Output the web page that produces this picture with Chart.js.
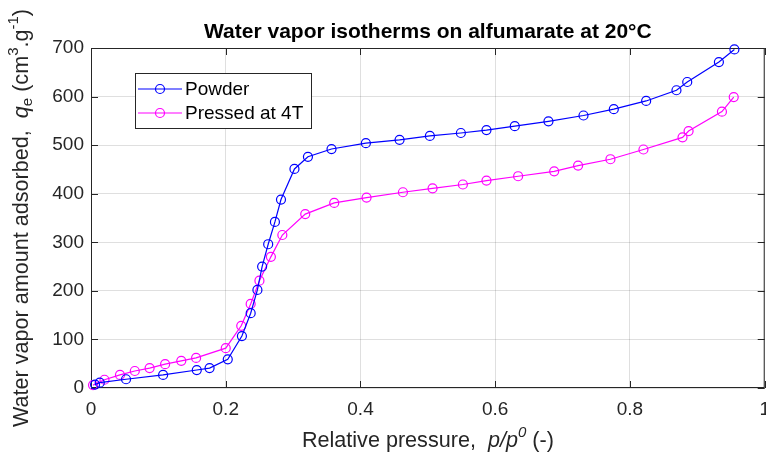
<!DOCTYPE html>
<html lang="en">
<head>
    <meta charset="UTF-8">
    <title>Water vapor isotherms</title>
    <script src="https://cdn.jsdelivr.net/npm/chart.js"></script>
    <style>
        html, body { margin: 0; padding: 0; background: #fff; overflow: hidden; }
        #wrap { width: 766px; height: 458px; overflow: hidden; }
    </style>
</head>
<body>
    <div id="wrap">
        <canvas id="isoChart" width="780" height="458"></canvas>
    </div>

    <script>
        // Powder sample
        const powderP = [0.006, 0.013, 0.052, 0.107, 0.157, 0.176, 0.203, 0.224, 0.237, 0.247, 0.254,
            0.263, 0.273, 0.282, 0.302, 0.322, 0.357, 0.408, 0.458, 0.503, 0.549, 0.587, 0.629,
            0.679, 0.731, 0.776, 0.824, 0.869, 0.885, 0.932, 0.955];
        const powderQ = [7, 11, 18, 27, 37, 41, 59, 107, 154, 202, 250,
            296, 342, 388, 451, 476, 492, 504, 511, 519, 525, 531, 539,
            549, 561, 574, 591, 613, 630, 671, 697];

        // Pressed at 4T
        const pressedP = [0.003, 0.02, 0.043, 0.065, 0.087, 0.11, 0.134, 0.156, 0.2, 0.223, 0.237,
            0.25, 0.267, 0.284, 0.318, 0.361, 0.409, 0.463, 0.507, 0.552, 0.587, 0.634,
            0.6875, 0.723, 0.771, 0.82, 0.878, 0.887, 0.9365, 0.954];
        const pressedQ = [6, 17, 27, 35, 41, 49, 56, 62, 82, 128, 173,
            221, 270, 315, 358, 381, 392, 403, 411, 419, 427, 436,
            446, 458, 471, 491, 516, 529, 569, 599];

        const seriesNames = ['Powder', 'Pressed at 4T'];
        const seriesColors = ['#0000ff', '#ff00ff'];
        const xTicks = [0, 0.2, 0.4, 0.6, 0.8, 1];
        const xTickLabels = ['0', '0.2', '0.4', '0.6', '0.8', '1'];
        const yTicks = [0, 100, 200, 300, 400, 500, 600, 700];

        const FONT = "'Liberation Sans', Arial, Helvetica, sans-serif";
        const INK = '#262626';

        function toPoints(xs, ys) {
            return xs.map((v, i) => ({ x: v, y: ys[i] }));
        }

        // text made of pieces (italic, sub/superscript), centred on (cx, cy)
        function drawRich(ctx, parts, cx, cy, angle) {
            ctx.save();
            ctx.translate(cx, cy);
            ctx.rotate(angle);
            ctx.textBaseline = 'middle';
            ctx.textAlign = 'left';
            let total = 0;
            parts.forEach(p => {
                ctx.font = p.font;
                p.w = ctx.measureText(p.t).width;
                total += p.w;
            });
            let x = -total / 2;
            parts.forEach(p => {
                ctx.font = p.font;
                ctx.fillStyle = INK;
                ctx.fillText(p.t, x, p.dy || 0);
                x += p.w;
            });
            ctx.restore();
        }

        const decorations = {
            id: 'decorations',
            beforeDatasetsDraw(chart) {
                const { ctx, chartArea: a, scales: { x, y } } = chart;
                ctx.save();
                ctx.strokeStyle = INK;
                ctx.lineWidth = 1;
                ctx.beginPath();
                // inward tick marks on all four sides
                xTicks.forEach(v => {
                    const px = Math.round(x.getPixelForValue(v)) + 0.5;
                    ctx.moveTo(px, a.bottom); ctx.lineTo(px, a.bottom - 7);
                    ctx.moveTo(px, a.top); ctx.lineTo(px, a.top + 7);
                });
                yTicks.forEach(v => {
                    const py = Math.round(y.getPixelForValue(v)) + 0.5;
                    ctx.moveTo(a.left, py); ctx.lineTo(a.left + 7, py);
                    ctx.moveTo(a.right, py); ctx.lineTo(a.right - 7, py);
                });
                ctx.stroke();
                ctx.strokeRect(a.left + 0.5, a.top + 0.5, a.right - a.left - 1, a.bottom - a.top - 1);
                ctx.restore();
            },
            afterDraw(chart) {
                const { ctx, chartArea: a } = chart;
                const mid = (a.left + a.right) / 2;

                // title
                ctx.save();
                ctx.font = 'bold 21px ' + FONT;
                ctx.fillStyle = '#000';
                ctx.textAlign = 'center';
                ctx.textBaseline = 'middle';
                ctx.fillText('Water vapor isotherms on alfumarate at 20°C', mid, 32);
                ctx.restore();

                const n = '21.6px ' + FONT, it = 'italic 21.6px ' + FONT;
                const sm = '15px ' + FONT, smi = 'italic 15px ' + FONT;

                drawRich(ctx, [
                    { t: 'Relative pressure,  ', font: n },
                    { t: 'p/p', font: it },
                    { t: '0', font: smi, dy: -8 },
                    { t: ' (-)', font: n }
                ], mid, 441, 0);

                drawRich(ctx, [
                    { t: 'Water vapor amount adsorbed,  ', font: n },
                    { t: 'q', font: it },
                    { t: 'e', font: sm, dy: 6 },
                    { t: ' (cm', font: n },
                    { t: '3', font: sm, dy: -8 },
                    { t: '.g', font: n },
                    { t: '-1', font: sm, dy: -8 },
                    { t: ')', font: n }
                ], 22, (a.top + a.bottom) / 2, -Math.PI / 2);

                // legend box
                const lx = 135, ly = 73, lw = 176, lh = 55;
                ctx.save();
                ctx.fillStyle = '#fff';
                ctx.fillRect(lx, ly, lw, lh);
                ctx.strokeStyle = INK;
                ctx.lineWidth = 1;
                ctx.strokeRect(lx + 0.5, ly + 0.5, lw, lh);
                ctx.font = '19px ' + FONT;
                ctx.textBaseline = 'middle';
                seriesNames.forEach((name, i) => {
                    const ry = ly + 16 + i * 24;
                    ctx.strokeStyle = seriesColors[i];
                    ctx.lineWidth = 1.2;
                    ctx.beginPath();
                    ctx.moveTo(lx + 3, ry); ctx.lineTo(lx + 47, ry);
                    ctx.stroke();
                    ctx.beginPath();
                    ctx.arc(lx + 25, ry, 4.5, 0, Math.PI * 2);
                    ctx.stroke();
                    ctx.fillStyle = '#000';
                    ctx.fillText(name, lx + 50, ry + 1);
                });
                ctx.restore();
            }
        };

        const ctx = document.getElementById('isoChart').getContext('2d');
        const isoChart = new Chart(ctx, {
            type: 'scatter',
            data: {
                datasets: [
                    {
                        label: seriesNames[0],
                        data: toPoints(powderP, powderQ),
                        borderColor: seriesColors[0],
                        backgroundColor: 'rgba(0,0,0,0)',
                        pointBackgroundColor: 'rgba(0,0,0,0)',
                        showLine: true,
                        borderWidth: 1.2,
                        pointRadius: 4.5,
                        pointBorderWidth: 1.2,
                        clip: false
                    },
                    {
                        label: seriesNames[1],
                        data: toPoints(pressedP, pressedQ),
                        borderColor: seriesColors[1],
                        backgroundColor: 'rgba(0,0,0,0)',
                        pointBackgroundColor: 'rgba(0,0,0,0)',
                        showLine: true,
                        borderWidth: 1.2,
                        pointRadius: 4.5,
                        pointBorderWidth: 1.2,
                        clip: false
                    }
                ]
            },
            options: {
                responsive: false,
                animation: false,
                layout: { padding: { left: 0, right: 15, top: 48, bottom: 0 } },
                plugins: {
                    legend: { display: false },
                    title: { display: false },
                    tooltip: { enabled: false }
                },
                scales: {
                    x: {
                        type: 'linear',
                        min: 0,
                        max: 1,
                        afterFit: s => { s.height = 70; },
                        afterBuildTicks: s => { s.ticks = xTicks.map(v => ({ value: v })); },
                        border: { display: false },
                        grid: { color: 'rgba(38,38,38,0.15)', drawTicks: false },
                        ticks: {
                            padding: 10,
                            maxRotation: 0,
                            color: INK,
                            font: { family: FONT, size: 19 },
                            callback: (v, i) => xTickLabels[i]
                        }
                    },
                    y: {
                        type: 'linear',
                        min: 0,
                        max: 700,
                        afterFit: s => { s.width = 91; },
                        afterBuildTicks: s => { s.ticks = yTicks.map(v => ({ value: v })); },
                        border: { display: false },
                        grid: { color: 'rgba(38,38,38,0.15)', drawTicks: false },
                        ticks: {
                            padding: 7,
                            color: INK,
                            font: { family: FONT, size: 19 }
                        }
                    }
                }
            },
            plugins: [decorations]
        });
    </script>
</body>
</html>
